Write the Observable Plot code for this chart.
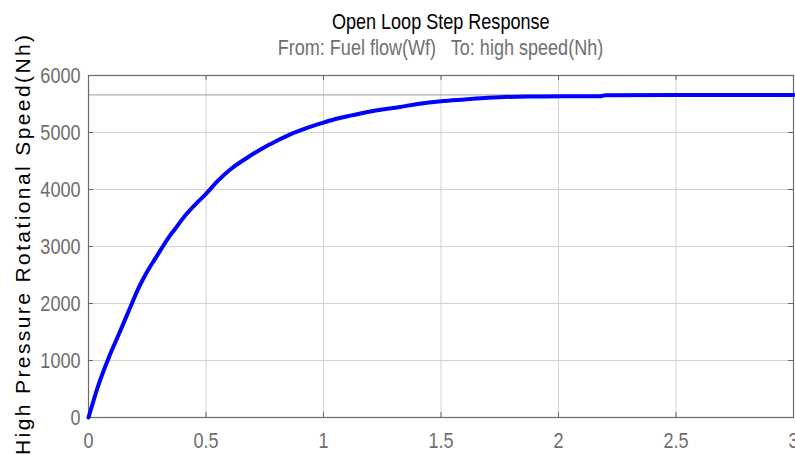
<!DOCTYPE html>
<html>
<head>
<meta charset="utf-8">
<script src="https://cdn.jsdelivr.net/npm/d3@7"></script>
<script src="https://cdn.jsdelivr.net/npm/@observablehq/plot@0.6"></script>
<style>
  html, body { margin: 0; padding: 0; background: #fff; }
  #wrap { position: relative; width: 795px; height: 455px; overflow: hidden; }
  #title, #subtitle { position: absolute; left: 88px; width: 705px; text-align: center; font-family: "Liberation Sans", Arial, sans-serif; font-size: 22px; line-height: 22px; white-space: pre; }
  #title span, #subtitle span { display: inline-block; transform: scaleX(0.82); transform-origin: 50% 50%; }
  #title { top: 11px; color: #000; }
  #subtitle { top: 37px; color: #707070; }
  #ylabel { position: absolute; left: 0; top: 0; width: 422px; text-align: center; font-family: "Liberation Sans", Arial, sans-serif; font-size: 21px; line-height: 21px; letter-spacing: 2.4px; color: #000; transform-origin: 0 0; transform: translate(12px, 455px) rotate(-90deg); white-space: pre; }
  #chart { position: absolute; left: 0; top: 0; }
</style>
</head>
<body>
<div id="wrap">
  <div id="chart"></div>
  <div id="title"><span>Open Loop Step Response</span></div>
  <div id="subtitle"><span>From: Fuel flow(Wf)   To: high speed(Nh)</span></div>
  <div id="ylabel">High Pressure Rotational Speed(Nh)</div>
</div>
<script>
// Time (s)
const timeValues = [0, 0.044, 0.087, 0.13, 0.172, 0.215, 0.25, 0.286, 0.343, 0.365, 0.415, 0.46, 0.5, 0.55, 0.607, 0.68, 0.749, 0.8, 0.863, 0.93, 1.006, 1.06, 1.12, 1.177, 1.25, 1.319, 1.4, 1.5, 1.6, 1.7, 1.87, 2.18, 2.2, 2.5, 3.0];
// High pressure rotational speed (Nh)
const speedValues = [0, 591, 1058, 1468, 1877, 2286, 2560, 2800, 3170, 3290, 3560, 3760, 3924, 4150, 4363, 4570, 4742, 4850, 4977, 5080, 5181, 5245, 5300, 5350, 5405, 5444, 5500, 5550, 5580, 5608, 5632, 5637, 5654, 5660, 5660];
const steadyState = [5660];
const xTicks = [0, 0.5, 1, 1.5, 2, 2.5, 3];
const yTicks = [0, 1000, 2000, 3000, 4000, 5000, 6000];

const data = timeValues.map((t, i) => ({t, v: speedValues[i]}));

const W = 795, H = 455;
const mL = 88, mR = 2, mT = 75, mB = 38;
const pw = W - mL - mR, ph = H - mT - mB;
const tickLen = 5;

const chart = Plot.plot({
  width: W,
  height: H,
  marginLeft: mL,
  marginRight: mR,
  marginTop: mT,
  marginBottom: mB,
  style: {
    fontFamily: '"Liberation Sans", Arial, sans-serif',
    fontSize: "22px",
    color: "#6e6e6e",
    background: "#fff",
    overflow: "visible"
  },
  x: {domain: [0, 3], ticks: xTicks, label: null},
  y: {domain: [0, 6000], ticks: yTicks, label: null},
  marks: [
    Plot.gridX(xTicks, {stroke: "#d2d2d2", strokeOpacity: 1, strokeWidth: 1}),
    Plot.gridY(yTicks, {stroke: "#d2d2d2", strokeOpacity: 1, strokeWidth: 1}),
    Plot.ruleY(steadyState, {stroke: "#9a9a9a", strokeWidth: 1}),
    // inward tick marks on all four sides
    Plot.tickX(xTicks, {x: d => d, stroke: "#666", insetTop: ph - tickLen}),
    Plot.tickX(xTicks, {x: d => d, stroke: "#666", insetBottom: ph - tickLen}),
    Plot.tickY(yTicks, {y: d => d, stroke: "#666", insetRight: pw - tickLen}),
    Plot.tickY(yTicks, {y: d => d, stroke: "#666", insetLeft: pw - tickLen}),
    Plot.axisX(xTicks, {tickSize: 0, tickPadding: 15, tickFormat: d => String(d), fill: "#6e6e6e", fontSize: 22, label: null}),
    Plot.axisY(yTicks, {tickSize: 0, tickPadding: 8, tickFormat: d => String(d), fill: "#6e6e6e", fontSize: 22, label: null}),
    Plot.frame({stroke: "#6a6a6a", strokeWidth: 1.2}),
    Plot.line(data, {x: "t", y: "v", curve: "monotone-x", stroke: "#0000ff", strokeWidth: 4, strokeLinejoin: "round", strokeLinecap: "round"})
  ]
});
document.getElementById("chart").appendChild(chart);

// condense tick labels to mimic a narrow font
d3.select(chart).selectAll("text").each(function () {
  const len = this.getComputedTextLength();
  if (len > 0) {
    this.setAttribute("textLength", (len * 0.82).toFixed(2));
    this.setAttribute("lengthAdjust", "spacingAndGlyphs");
  }
});
</script>
</body>
</html>
